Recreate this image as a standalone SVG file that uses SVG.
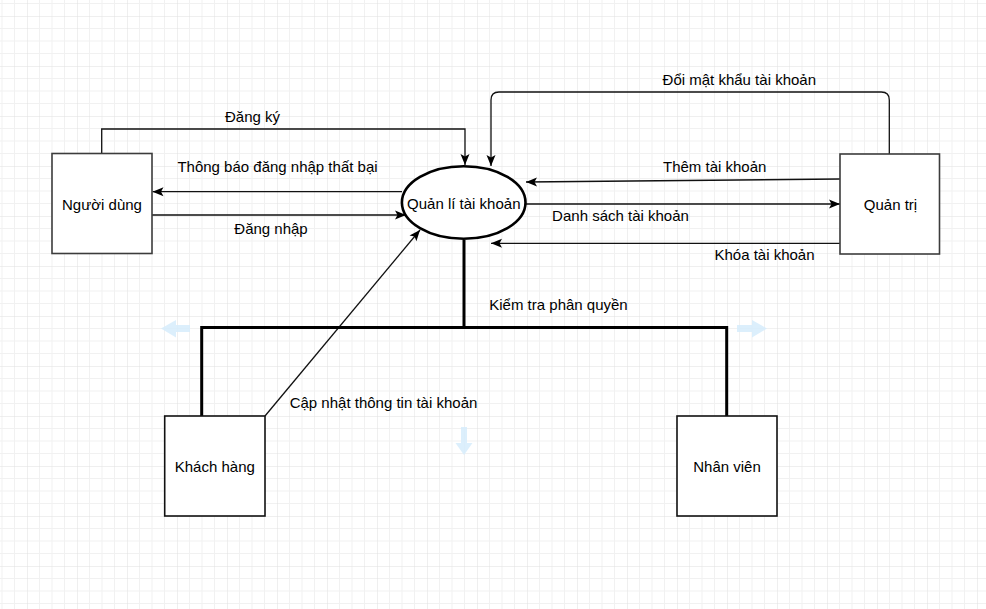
<svg xmlns="http://www.w3.org/2000/svg" width="986" height="609" viewBox="0 0 986 609">
<style>
text{font-family:"Liberation Sans",Arial,sans-serif;font-size:15px;fill:#000;text-anchor:middle}
.box{fill:#fff;stroke:#3c3c3c;stroke-width:1.6}
.box2{fill:#fff;stroke:#111;stroke-width:1.6}
.c{fill:none;stroke:#111;stroke-width:1.3}
.bus{fill:none;stroke:#000;stroke-width:3}
.hint{fill:#d6ecfb;opacity:0.85}
</style>
<defs>
<pattern id="grid" patternUnits="userSpaceOnUse" x="27" y="16" width="50" height="50">
<path d="M12.5 0V50M25 0V50M37.5 0V50M0 12.5H50M0 25H50M0 37.5H50" stroke="#f1f1f1" stroke-width="1" fill="none"/>
<path d="M0 0V50M0 0H50" stroke="#e0e0e0" stroke-width="1" fill="none"/>
</pattern>
<marker id="ar" markerUnits="userSpaceOnUse" markerWidth="14" markerHeight="12" viewBox="0 0 14 12" refX="12" refY="6" orient="auto">
<path d="M1,1.5 L12,6 L1,10.5 L3.5,6 Z" fill="#000"/>
</marker>
</defs>
<rect width="986" height="609" fill="#fff"/>
<rect width="986" height="609" fill="url(#grid)"/>

<g id="hints">
<path class="hint" d="M161,328.5 L176,320 L176,325 L190,325 L190,332 L176,332 L176,337.5 Z"/>
<path class="hint" d="M767,328.5 L752,320 L752,325 L737,325 L737,332 L752,332 L752,337.5 Z"/>
<path class="hint" d="M464,455 L455.5,443 L461,443 L461,427 L467,427 L467,443 L472.5,443 Z"/>
</g>

<g id="connectors">
<path class="c" d="M101.7,153 V129 H465 V165" marker-end="url(#ar)"/>
<path class="c" d="M402,191.7 H152.5" marker-end="url(#ar)"/>
<path class="c" d="M152,215 H406" marker-end="url(#ar)"/>
<path class="c" d="M889.3,154 V100 Q889.3,92 881.3,92 H499 Q491,92 491,100 V166" marker-end="url(#ar)"/>
<path class="c" d="M840,179 L526,182" marker-end="url(#ar)"/>
<path class="c" d="M526,204 H840" marker-end="url(#ar)"/>
<path class="c" d="M842,243.3 H491" marker-end="url(#ar)"/>
<path class="c" d="M265,416 L420,230" marker-end="url(#ar)"/>
<path class="bus" d="M464,240 V327.5 M201.7,416 V327.5 H726.7 V416"/>
</g>

<g id="nguoi-dung">
<rect class="box" x="52" y="153.5" width="100" height="100"/>
<text x="102" y="210">Người dùng</text>
</g>
<g id="quan-li">
<ellipse cx="463.7" cy="202.5" rx="61.8" ry="36.3" fill="#fff" stroke="#000" stroke-width="2.6"/>
<text x="463.8" y="209.3">Quản lí tài khoản</text>
</g>
<g id="quan-tri">
<rect class="box" x="840" y="154" width="99.5" height="100"/>
<text x="890.5" y="209.5">Quản trị</text>
</g>
<g id="khach-hang">
<rect class="box2" x="164.7" y="416" width="100.3" height="100"/>
<text x="214.8" y="471.7">Khách hàng</text>
</g>
<g id="nhan-vien">
<rect class="box2" x="677" y="416" width="100" height="100"/>
<text x="727" y="471.7">Nhân viên</text>
</g>

<g id="labels">
<text x="252.5" y="122">Đăng ký</text>
<text x="277.5" y="172">Thông báo đăng nhập thất bại</text>
<text x="271" y="234">Đăng nhập</text>
<text x="739.3" y="85">Đổi mật khẩu tài khoản</text>
<text x="714.7" y="171.7">Thêm tài khoản</text>
<text x="620.5" y="221">Danh sách tài khoản</text>
<text x="764.5" y="260">Khóa tài khoản</text>
<text x="558.5" y="310">Kiểm tra phân quyền</text>
<text x="383.5" y="408.3">Cập nhật thông tin tài khoản</text>
</g>
</svg>
